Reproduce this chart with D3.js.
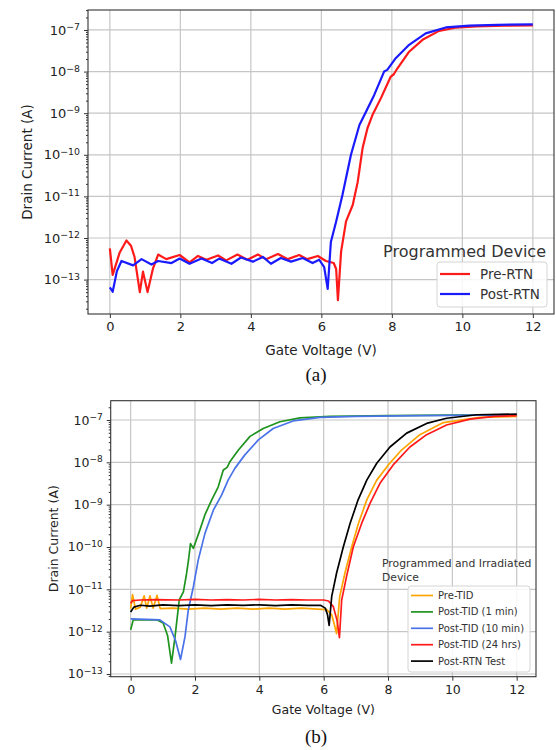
<!DOCTYPE html>
<html>
<head>
<meta charset="utf-8">
<script src="https://cdn.jsdelivr.net/npm/d3@7"></script>
<style>
  body { margin: 0; background: #fff; }
  svg { display: block; font-family: "DejaVu Sans", sans-serif; }
</style>
</head>
<body>
<svg id="chart" width="556" height="750"></svg>
<script>
// ticks shared by both panels
const xTicks = [0, 2, 4, 6, 8, 10, 12];
const yTickExps = [-13, -12, -11, -10, -9, -8, -7];

// panel (a) programmed device: [gate voltage V, drain current A]
const preRTN = [[0,5.6e-13],[0.08,1.3e-13],[0.28,4.5e-13],[0.47,8.7e-13],[0.6,6.5e-13],[0.7,3.5e-13],[0.85,5e-14],[0.94,1.55e-13],[1.07,5e-14],[1.22,1.8e-13],[1.37,4e-13],[1.6,3.1e-13],[1.98,3.9e-13],[2.26,2.6e-13],[2.5,3.7e-13],[2.74,3e-13],[3.07,3.8e-13],[3.3,2.9e-13],[3.62,4e-13],[3.9,3e-13],[4.2,4e-13],[4.43,3.1e-13],[4.77,4.1e-13],[5.05,3.1e-13],[5.37,3.9e-13],[5.6,3.1e-13],[5.9,3.7e-13],[6.13,2.8e-13],[6.35,2.5e-13],[6.42,1.8e-13],[6.47,3.2e-14],[6.56,4.7e-13],[6.7,2.5e-12],[6.89,6.2e-12],[7.03,2.2e-11],[7.17,1.45e-10],[7.31,4.4e-10],[7.45,9e-10],[7.69,2.3e-9],[7.97,7.6e-9],[8.05,8.5e-9],[8.16,1.2e-8],[8.49,3e-8],[8.87,5.8e-8],[9.34,9.5e-8],[9.8,1.13e-7],[10.4,1.22e-7],[11.2,1.27e-7],[12,1.29e-7]];
const postRTN = [[0,6.5e-14],[0.08,5.1e-14],[0.2,1.6e-13],[0.33,2.8e-13],[0.66,2.2e-13],[0.9,3.1e-13],[1.18,2.3e-13],[1.37,2.8e-13],[1.75,2.5e-13],[1.98,3.2e-13],[2.26,2.4e-13],[2.6,3.2e-13],[2.9,2.5e-13],[3.1,3.2e-13],[3.45,2.4e-13],[3.72,3.4e-13],[4.06,2.7e-13],[4.34,3.5e-13],[4.57,2.4e-13],[4.85,3.3e-13],[5.14,2.7e-13],[5.47,3.3e-13],[5.75,2.5e-13],[5.94,3e-13],[6.08,2e-13],[6.18,6e-14],[6.27,8e-13],[6.42,2.5e-12],[6.6,1.1e-11],[6.84,1e-10],[7.08,5.2e-10],[7.27,1.1e-9],[7.5,2.75e-9],[7.78,1e-8],[7.87,1.1e-8],[8.11,2.1e-8],[8.49,4.4e-8],[8.96,8.3e-8],[9.53,1.15e-7],[10.2,1.27e-7],[11,1.33e-7],[12,1.36e-7]];

// panel (b) programmed and irradiated device
const preTID = [[0,3.5e-12],[0.06,7.5e-12],[0.15,3.4e-12],[0.3,3.8e-12],[0.42,7e-12],[0.5,3.6e-12],[0.6,7e-12],[0.7,3.6e-12],[0.82,7.2e-12],[0.92,3.5e-12],[1.3,3.6e-12],[1.8,3.4e-12],[2.3,3.6e-12],[2.8,3.4e-12],[3.3,3.6e-12],[3.8,3.4e-12],[4.3,3.6e-12],[4.8,3.4e-12],[5.3,3.6e-12],[5.8,3.4e-12],[6.1,3.3e-12],[6.25,2.5e-12],[6.33,1.5e-12],[6.4,9e-13],[6.45,2.5e-12],[6.5,6.8e-12],[6.66,2.4e-11],[6.87,1e-10],[7.08,3.6e-10],[7.34,1.3e-9],[7.65,3.8e-9],[8.01,8.7e-9],[8.42,1.95e-8],[8.99,4.5e-8],[9.72,8.7e-8],[10.86,1.15e-7],[12,1.21e-7]];
const postTID1min = [[0,1.1e-12],[0.08,1.9e-12],[0.5,1.9e-12],[0.81,1.9e-12],[1.01,1.6e-12],[1.15,8e-13],[1.27,1.8e-13],[1.38,7.6e-13],[1.51,5.6e-12],[1.64,8.7e-12],[1.74,2.4e-11],[1.8,5e-11],[1.86,1.2e-10],[1.95,9.3e-11],[2.15,2.5e-10],[2.31,5.8e-10],[2.52,1.3e-9],[2.72,2.6e-9],[2.88,6.6e-9],[3.0,7.6e-9],[3.09,1.05e-8],[3.35,1.95e-8],[3.71,4.1e-8],[4.12,6.3e-8],[4.64,9.1e-8],[5.26,1.12e-7],[6.2,1.22e-7],[8,1.27e-7],[10,1.3e-7],[12,1.32e-7]];
const postTID10min = [[0,2.0e-12],[0.5,1.95e-12],[0.91,1.9e-12],[1.22,1.3e-12],[1.4,6e-13],[1.55,2.2e-13],[1.69,7.6e-13],[1.79,3.2e-12],[1.95,1.15e-11],[2.1,4.9e-11],[2.31,2.1e-10],[2.57,7.4e-10],[2.83,1.7e-9],[3.03,3.8e-9],[3.24,7.2e-9],[3.55,1.5e-8],[3.97,3.4e-8],[4.43,6.3e-8],[5.05,9.5e-8],[5.88,1.15e-7],[7,1.22e-7],[9,1.27e-7],[12,1.32e-7]];
const postTID24hrs = [[0,4.7e-12],[0.06,5.4e-12],[0.3,5.6e-12],[0.8,5.7e-12],[1.5,5.6e-12],[2,5.8e-12],[2.5,5.6e-12],[3,5.7e-12],[3.5,5.6e-12],[4,5.8e-12],[4.5,5.6e-12],[5,5.7e-12],[5.5,5.6e-12],[6,5.6e-12],[6.15,5.3e-12],[6.3,3.9e-12],[6.42,1.8e-12],[6.49,7.2e-13],[6.56,5.6e-12],[6.71,2e-11],[6.92,1e-10],[7.18,3.6e-10],[7.44,1.07e-9],[7.75,3.2e-9],[8.16,8.7e-9],[8.68,2.3e-8],[9.2,4.5e-8],[9.82,7.6e-8],[10.55,1.05e-7],[11.3,1.22e-7],[12,1.27e-7]];
const postRTNTest = [[0,2.9e-12],[0.1,3.8e-12],[0.3,4.2e-12],[0.6,4.0e-12],[1,4.3e-12],[1.5,4.1e-12],[2,4.3e-12],[2.5,4.1e-12],[3,4.3e-12],[3.5,4.2e-12],[4,4.3e-12],[4.5,4.1e-12],[5,4.3e-12],[5.5,4.2e-12],[5.9,4.2e-12],[6.05,3.6e-12],[6.12,2.5e-12],[6.17,1.4e-12],[6.25,6.8e-12],[6.4,2.4e-11],[6.61,1e-10],[6.82,3.6e-10],[7.07,1.3e-9],[7.34,3.8e-9],[7.65,9.5e-9],[8.06,2.3e-8],[8.58,4.9e-8],[9.2,8.3e-8],[9.82,1.1e-7],[10.76,1.33e-7],[12,1.38e-7]];

const svg = d3.select('#chart');

function drawPanel(cfg) {
    const g = svg.append('g');
    const x = d3.scaleLinear().domain(cfg.xDomain).range([cfg.left, cfg.right]);
    const y = d3.scaleLog().domain(cfg.yDomain).range([cfg.bottom, cfg.top]);
    const decades = yTickExps.map(e => Math.pow(10, e));

    // grid
    g.append('g').selectAll('line').data(xTicks).join('line')
        .attr('x1', d => x(d)).attr('x2', d => x(d))
        .attr('y1', cfg.top).attr('y2', cfg.bottom)
        .attr('stroke', '#c6c6c6').attr('stroke-width', 1.2);
    g.append('g').selectAll('line').data(decades).join('line')
        .attr('x1', cfg.left).attr('x2', cfg.right)
        .attr('y1', d => y(d)).attr('y2', d => y(d))
        .attr('stroke', '#c6c6c6').attr('stroke-width', 1.2);

    // curves
    const clipId = 'clip-' + cfg.id;
    g.append('clipPath').attr('id', clipId).append('rect')
        .attr('x', cfg.left).attr('y', cfg.top)
        .attr('width', cfg.right - cfg.left).attr('height', cfg.bottom - cfg.top);
    const line = d3.line().x(d => x(d[0])).y(d => y(d[1]));
    g.append('g').attr('clip-path', `url(#${clipId})`)
        .selectAll('path').data(cfg.series).join('path')
        .attr('d', d => line(d.values))
        .attr('fill', 'none')
        .attr('stroke', d => d.color)
        .attr('stroke-width', cfg.lineWidth)
        .attr('stroke-linejoin', 'round');

    // frame
    g.append('rect')
        .attr('x', cfg.left).attr('y', cfg.top)
        .attr('width', cfg.right - cfg.left).attr('height', cfg.bottom - cfg.top)
        .attr('fill', 'none').attr('stroke', '#333').attr('stroke-width', 1.1);

    // x axis
    const xAxis = g.append('g').attr('transform', `translate(0,${cfg.bottom})`)
        .call(d3.axisBottom(x).tickValues(xTicks).tickSize(4).tickSizeOuter(0).tickPadding(4).tickFormat(d3.format('d')));
    xAxis.select('.domain').remove();
    xAxis.selectAll('line').attr('stroke', '#333');
    xAxis.selectAll('text').attr('font-size', cfg.tickFont).attr('font-family', 'DejaVu Sans').attr('fill', '#222');

    // y axis, minor ticks first
    const minor = [];
    for (let e = -14; e <= -7; e++) {
        for (let k = 2; k <= 9; k++) {
            const v = k * Math.pow(10, e);
            if (v > cfg.yDomain[0] && v < cfg.yDomain[1]) minor.push(v);
        }
    }
    const yMinor = g.append('g').attr('transform', `translate(${cfg.left},0)`)
        .call(d3.axisLeft(y).tickValues(minor).tickSize(2).tickSizeOuter(0).tickFormat(''));
    yMinor.select('.domain').remove();
    yMinor.selectAll('line').attr('stroke', '#333');

    const yAxis = g.append('g').attr('transform', `translate(${cfg.left},0)`)
        .call(d3.axisLeft(y).tickValues(decades).tickSize(4).tickSizeOuter(0).tickPadding(4));
    yAxis.select('.domain').remove();
    yAxis.selectAll('line').attr('stroke', '#333');
    yAxis.selectAll('text').text(null)
        .attr('font-size', cfg.tickFont).attr('font-family', 'DejaVu Sans').attr('fill', '#222')
        .each(function(d) {
            const t = d3.select(this);
            t.append('tspan').text('10');
            t.append('tspan').attr('dy', '-0.5em').attr('font-size', '0.72em')
                .text('\u2212' + Math.abs(Math.round(Math.log10(d))));
        });

    // axis labels
    g.append('text')
        .attr('x', (cfg.left + cfg.right) / 2).attr('y', cfg.xLabelY)
        .attr('text-anchor', 'middle').attr('font-size', cfg.labelFont).attr('fill', '#222')
        .text('Gate Voltage (V)');
    g.append('text')
        .attr('transform', `translate(${cfg.yLabelX},${(cfg.top + cfg.bottom) / 2}) rotate(-90)`)
        .attr('text-anchor', 'middle').attr('font-size', cfg.labelFont).attr('fill', '#222')
        .text('Drain Current (A)');

    // legend title
    const title = g.append('text')
        .attr('x', cfg.titleX).attr('y', cfg.titleY)
        .attr('text-anchor', cfg.titleAnchor)
        .attr('font-size', cfg.titleFont).attr('fill', '#333');
    cfg.title.forEach((s, i) => {
        title.append('tspan').attr('x', cfg.titleX).attr('dy', i === 0 ? 0 : '1.25em').text(s);
    });

    // legend box
    const lg = cfg.legend;
    g.append('rect')
        .attr('x', lg.x).attr('y', lg.y).attr('width', lg.w).attr('height', lg.h)
        .attr('rx', 3).attr('fill', '#fff').attr('fill-opacity', 0.85)
        .attr('stroke', '#d4d4d4').attr('stroke-width', 1);
    const items = g.append('g').selectAll('g').data(cfg.series).join('g')
        .attr('transform', (d, i) => `translate(${lg.x},${lg.y + lg.firstY + i * lg.step})`);
    items.append('line')
        .attr('x1', lg.lineX0).attr('x2', lg.lineX1)
        .attr('stroke', d => d.color).attr('stroke-width', cfg.lineWidth);
    items.append('text')
        .attr('x', lg.textX).attr('dy', '0.35em')
        .attr('font-size', lg.font).attr('fill', '#333')
        .text(d => d.name);

    // caption
    g.append('text')
        .attr('x', cfg.captionX).attr('y', cfg.captionY)
        .attr('text-anchor', 'middle')
        .attr('font-family', '"Liberation Serif", "Times New Roman", serif')
        .attr('font-size', 19).attr('fill', '#111')
        .text(cfg.caption);
}

drawPanel({
    id: 'a',
    left: 88, right: 554, top: 10, bottom: 314,
    xDomain: [-0.62, 12.6],
    yDomain: [Math.pow(10, -13.827), Math.pow(10, -6.52)],
    lineWidth: 2.2,
    tickFont: 13, labelFont: 13.5,
    xLabelY: 355, yLabelX: 32,
    series: [
        { name: 'Pre-RTN', color: '#ff1a1a', values: preRTN },
        { name: 'Post-RTN', color: '#1a1aff', values: postRTN }
    ],
    title: ['Programmed Device'], titleX: 546, titleY: 257, titleAnchor: 'end', titleFont: 16,
    legend: { x: 437, y: 262, w: 110, h: 45, firstY: 12, step: 20, lineX0: 3, lineX1: 33, textX: 43, font: 13.5 },
    caption: '(a)', captionX: 316, captionY: 381
});

drawPanel({
    id: 'b',
    left: 110.7, right: 536, top: 400.7, bottom: 676.7,
    xDomain: [-0.62, 12.6],
    yDomain: [Math.pow(10, -13.064), Math.pow(10, -6.544)],
    lineWidth: 1.7,
    tickFont: 12.5, labelFont: 12.5,
    xLabelY: 714, yLabelX: 58,
    series: [
        { name: 'Pre-TID', color: '#ffa500', values: preTID },
        { name: 'Post-TID (1 min)', color: '#1f931f', values: postTID1min },
        { name: 'Post-TID (10 min)', color: '#4a73e8', values: postTID10min },
        { name: 'Post-TID (24 hrs)', color: '#ff1a1a', values: postTID24hrs },
        { name: 'Post-RTN Test', color: '#000000', values: postRTNTest }
    ],
    title: ['Programmed and Irradiated', 'Device'], titleX: 382, titleY: 567, titleAnchor: 'start', titleFont: 10.8,
    legend: { x: 408, y: 586, w: 122, h: 86, firstY: 9.5, step: 16.4, lineX0: 3, lineX1: 25, textX: 30, font: 10 },
    caption: '(b)', captionX: 316, captionY: 743
});
</script>
</body>
</html>
